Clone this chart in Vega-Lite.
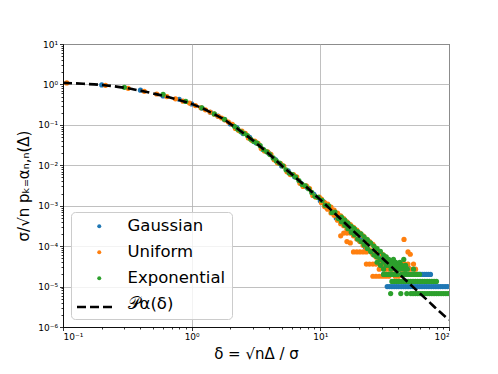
{
  "$schema": "https://vega.github.io/schema/vega-lite/v6.json",
  "width": 386,
  "height": 283,
  "autosize": {"type": "none"},
  "padding": {"left": 63, "top": 44, "right": 49, "bottom": 47},
  "background": "white",
  "config": {
    "view": {"stroke": "black", "strokeWidth": 1},
    "font": "DejaVu Sans",
    "axis": {
      "labelFont": "DejaVu Sans", "labelFontSize": 9, "labelColor": "black",
      "tickColor": "black", "tickWidth": 0.8, "domainColor": "black", "domainWidth": 0.9,
      "gridColor": "#b0b0b0", "gridWidth": 0.8,
      "titleFont": "DejaVu Sans", "titleFontWeight": "normal", "titleColor": "black", "titleFontSize": 15
    }
  },
  "datasets": {
    "pts": [
      {"s":"Gaussian","d":0.2,"p":0.97},{"s":"Gaussian","d":0.4,"p":0.72},{"s":"Gaussian","d":0.6,"p":0.52},{"s":"Gaussian","d":0.8,"p":0.43},{"s":"Gaussian","d":1.0,"p":0.33},{"s":"Gaussian","d":1.2,"p":0.26},{"s":"Gaussian","d":1.4,"p":0.205},{"s":"Gaussian","d":1.6,"p":0.165},{"s":"Gaussian","d":1.8,"p":0.135},
      {"s":"Gaussian","d":2.0,"p":0.105},{"s":"Gaussian","d":2.24,"p":0.085},{"s":"Gaussian","d":2.51,"p":0.061},{"s":"Gaussian","d":2.82,"p":0.049},{"s":"Gaussian","d":3.16,"p":0.036},{"s":"Gaussian","d":3.55,"p":0.025},{"s":"Gaussian","d":3.98,"p":0.0198},{"s":"Gaussian","d":4.47,"p":0.0138},{"s":"Gaussian","d":5.01,"p":0.0096},{"s":"Gaussian","d":5.62,"p":0.0073},{"s":"Gaussian","d":6.31,"p":0.0052},{"s":"Gaussian","d":7.08,"p":0.0036},{"s":"Gaussian","d":7.94,"p":0.0028},{"s":"Gaussian","d":8.91,"p":0.0019},
      {"s":"Gaussian","d":10,"p":0.00133},{"s":"Gaussian","d":10.6,"p":0.00124},{"s":"Gaussian","d":11.2,"p":0.0009},{"s":"Gaussian","d":11.9,"p":0.00092},{"s":"Gaussian","d":12.6,"p":0.00067},{"s":"Gaussian","d":13.3,"p":0.0005},{"s":"Gaussian","d":14.1,"p":0.00055},{"s":"Gaussian","d":15.0,"p":0.00038},{"s":"Gaussian","d":15.8,"p":0.0004},{"s":"Gaussian","d":16.8,"p":0.000255},{"s":"Gaussian","d":17.8,"p":0.00024},{"s":"Gaussian","d":18.8,"p":0.00025},{"s":"Gaussian","d":20.0,"p":0.00014},{"s":"Gaussian","d":21.1,"p":0.00016},{"s":"Gaussian","d":22.4,"p":0.000094},{"s":"Gaussian","d":23.7,"p":0.00013},{"s":"Gaussian","d":25.1,"p":0.00007},{"s":"Gaussian","d":26.6,"p":0.00008},{"s":"Gaussian","d":28.2,"p":0.00004},{"s":"Gaussian","d":29.9,"p":0.00006},
      {"s":"Gaussian","d":31,"p":5e-5},{"s":"Gaussian","d":30.5,"p":4e-5},{"s":"Gaussian","d":33,"p":4e-5},
      {"s":"Gaussian","d":30,"p":3e-5},{"s":"Gaussian","d":32,"p":3e-5},{"s":"Gaussian","d":36,"p":3e-5},{"s":"Gaussian","d":40,"p":3e-5},{"s":"Gaussian","d":44,"p":3e-5},{"s":"Gaussian","d":48,"p":3e-5},
      {"s":"Gaussian","d":31,"p":2e-5},{"s":"Gaussian","d":34,"p":2e-5},{"s":"Gaussian","d":38,"p":2e-5},{"s":"Gaussian","d":43,"p":2e-5},{"s":"Gaussian","d":57.5,"p":2e-5},{"s":"Gaussian","d":59.7,"p":2e-5},{"s":"Gaussian","d":61.9,"p":2e-5},{"s":"Gaussian","d":64.3,"p":2e-5},{"s":"Gaussian","d":66.7,"p":2e-5},{"s":"Gaussian","d":69.2,"p":2e-5},{"s":"Gaussian","d":71.8,"p":2e-5},
      {"s":"Gaussian","d":33.1,"p":1e-5},{"s":"Gaussian","d":34.5,"p":1e-5},{"s":"Gaussian","d":36.0,"p":1e-5},{"s":"Gaussian","d":37.5,"p":1e-5},{"s":"Gaussian","d":39.1,"p":1e-5},{"s":"Gaussian","d":40.7,"p":1e-5},{"s":"Gaussian","d":42.5,"p":1e-5},{"s":"Gaussian","d":44.3,"p":1e-5},{"s":"Gaussian","d":46.1,"p":1e-5},{"s":"Gaussian","d":48.1,"p":1e-5},{"s":"Gaussian","d":50.1,"p":1e-5},{"s":"Gaussian","d":52.2,"p":1e-5},{"s":"Gaussian","d":54.5,"p":1e-5},{"s":"Gaussian","d":56.8,"p":1e-5},{"s":"Gaussian","d":59.2,"p":1e-5},{"s":"Gaussian","d":61.7,"p":1e-5},{"s":"Gaussian","d":64.3,"p":1e-5},{"s":"Gaussian","d":67.0,"p":1e-5},{"s":"Gaussian","d":69.8,"p":1e-5},{"s":"Gaussian","d":72.8,"p":1e-5},{"s":"Gaussian","d":75.9,"p":1e-5},{"s":"Gaussian","d":79.1,"p":1e-5},{"s":"Gaussian","d":82.4,"p":1e-5},{"s":"Gaussian","d":85.9,"p":1e-5},{"s":"Gaussian","d":89.5,"p":1e-5},{"s":"Gaussian","d":93.3,"p":1e-5},{"s":"Gaussian","d":97.2,"p":1e-5},

      {"s":"Uniform","d":0.107,"p":1.09},{"s":"Uniform","d":0.214,"p":0.95},{"s":"Uniform","d":0.321,"p":0.80},{"s":"Uniform","d":0.428,"p":0.675},{"s":"Uniform","d":0.535,"p":0.58},{"s":"Uniform","d":0.642,"p":0.50},{"s":"Uniform","d":0.749,"p":0.44},{"s":"Uniform","d":0.856,"p":0.385},{"s":"Uniform","d":0.963,"p":0.345},{"s":"Uniform","d":1.07,"p":0.30},{"s":"Uniform","d":1.18,"p":0.265},{"s":"Uniform","d":1.28,"p":0.235},{"s":"Uniform","d":1.39,"p":0.207},{"s":"Uniform","d":1.50,"p":0.184},{"s":"Uniform","d":1.61,"p":0.163},{"s":"Uniform","d":1.71,"p":0.148},{"s":"Uniform","d":1.82,"p":0.132},{"s":"Uniform","d":1.93,"p":0.117},
      {"s":"Uniform","d":2.07,"p":0.103},{"s":"Uniform","d":2.32,"p":0.0722},{"s":"Uniform","d":2.61,"p":0.0615},{"s":"Uniform","d":2.93,"p":0.0414},{"s":"Uniform","d":3.28,"p":0.0347},{"s":"Uniform","d":3.68,"p":0.0226},{"s":"Uniform","d":4.13,"p":0.0187},{"s":"Uniform","d":4.64,"p":0.0115},{"s":"Uniform","d":5.20,"p":0.0096},{"s":"Uniform","d":5.84,"p":0.0059},{"s":"Uniform","d":6.55,"p":0.0052},{"s":"Uniform","d":7.35,"p":0.0030},{"s":"Uniform","d":8.25,"p":0.00264},{"s":"Uniform","d":9.25,"p":0.00162},
      {"s":"Uniform","d":2.19,"p":0.0818},{"s":"Uniform","d":2.46,"p":0.070},{"s":"Uniform","d":2.76,"p":0.0475},{"s":"Uniform","d":3.10,"p":0.0399},{"s":"Uniform","d":3.47,"p":0.026},{"s":"Uniform","d":3.90,"p":0.0214},{"s":"Uniform","d":4.38,"p":0.0137},{"s":"Uniform","d":4.91,"p":0.0110},{"s":"Uniform","d":5.51,"p":0.0069},{"s":"Uniform","d":6.19,"p":0.0059},{"s":"Uniform","d":6.94,"p":0.0036},{"s":"Uniform","d":7.79,"p":0.0031},{"s":"Uniform","d":8.74,"p":0.0018},{"s":"Uniform","d":9.81,"p":0.00163},
      {"s":"Uniform","d":10.2,"p":0.00145},{"s":"Uniform","d":10.2,"p":0.00119},{"s":"Uniform","d":10.8,"p":0.0012},{"s":"Uniform","d":10.8,"p":0.00095},{"s":"Uniform","d":11.4,"p":0.0011},{"s":"Uniform","d":11.4,"p":0.00082},{"s":"Uniform","d":12.1,"p":0.00092},{"s":"Uniform","d":12.1,"p":0.00066},{"s":"Uniform","d":12.8,"p":0.00078},{"s":"Uniform","d":12.8,"p":0.00058},{"s":"Uniform","d":13.6,"p":0.00066},{"s":"Uniform","d":13.6,"p":0.00044},
      {"s":"Uniform","d":14.4,"p":0.00056},{"s":"Uniform","d":14.4,"p":0.00036},{"s":"Uniform","d":14.4,"p":0.00018},{"s":"Uniform","d":15.2,"p":0.00048},{"s":"Uniform","d":15.2,"p":0.00032},{"s":"Uniform","d":15.2,"p":0.00021},
      {"s":"Uniform","d":16.1,"p":0.0004},{"s":"Uniform","d":16.1,"p":0.00026},{"s":"Uniform","d":16.1,"p":0.00021},{"s":"Uniform","d":16.1,"p":0.00013},{"s":"Uniform","d":17.1,"p":0.00034},{"s":"Uniform","d":17.1,"p":0.00022},{"s":"Uniform","d":17.1,"p":0.00021},{"s":"Uniform","d":17.1,"p":0.00012},
      {"s":"Uniform","d":18.1,"p":0.00029},{"s":"Uniform","d":18.1,"p":0.00018},{"s":"Uniform","d":18.1,"p":7.2e-5},{"s":"Uniform","d":19.2,"p":0.00025},{"s":"Uniform","d":19.2,"p":0.00015},{"s":"Uniform","d":19.2,"p":7.2e-5},{"s":"Uniform","d":20.3,"p":0.00021},{"s":"Uniform","d":20.3,"p":0.00013},{"s":"Uniform","d":20.3,"p":7.2e-5},{"s":"Uniform","d":21.5,"p":0.00018},{"s":"Uniform","d":21.5,"p":0.000105},{"s":"Uniform","d":21.5,"p":7.2e-5},
      {"s":"Uniform","d":22.8,"p":0.00015},{"s":"Uniform","d":22.8,"p":9e-5},{"s":"Uniform","d":22.8,"p":7.2e-5},{"s":"Uniform","d":22.8,"p":3.6e-5},{"s":"Uniform","d":24.1,"p":0.00013},{"s":"Uniform","d":24.1,"p":8.1e-5},{"s":"Uniform","d":24.1,"p":3.6e-5},
      {"s":"Uniform","d":25.6,"p":0.00011},{"s":"Uniform","d":25.6,"p":6.3e-5},{"s":"Uniform","d":25.6,"p":3.6e-5},{"s":"Uniform","d":25.6,"p":1.8e-5},{"s":"Uniform","d":27.1,"p":9e-5},{"s":"Uniform","d":27.1,"p":5.4e-5},{"s":"Uniform","d":27.1,"p":3.6e-5},{"s":"Uniform","d":27.1,"p":1.8e-5},{"s":"Uniform","d":28.7,"p":7.2e-5},{"s":"Uniform","d":28.7,"p":4.5e-5},{"s":"Uniform","d":28.7,"p":2.7e-5},{"s":"Uniform","d":28.7,"p":1.8e-5},
      {"s":"Uniform","d":30.4,"p":6.3e-5},{"s":"Uniform","d":30.4,"p":3.6e-5},{"s":"Uniform","d":30.4,"p":1.8e-5},{"s":"Uniform","d":32.2,"p":5.4e-5},{"s":"Uniform","d":32.2,"p":2.7e-5},{"s":"Uniform","d":32.2,"p":1.8e-5},{"s":"Uniform","d":34.1,"p":4.5e-5},{"s":"Uniform","d":34.1,"p":2.7e-5},{"s":"Uniform","d":34.1,"p":1.8e-5},
      {"s":"Uniform","d":36.1,"p":3.6e-5},{"s":"Uniform","d":36.1,"p":2.7e-5},{"s":"Uniform","d":38.2,"p":3.6e-5},{"s":"Uniform","d":38.2,"p":1.8e-5},{"s":"Uniform","d":40.5,"p":2.7e-5},{"s":"Uniform","d":40.5,"p":1.8e-5},{"s":"Uniform","d":42.9,"p":3.6e-5},{"s":"Uniform","d":42.9,"p":2.7e-5},{"s":"Uniform","d":44.7,"p":1.47e-4},{"s":"Uniform","d":45.4,"p":3.6e-5},{"s":"Uniform","d":45.4,"p":2.7e-5},
      {"s":"Uniform","d":48,"p":7.2e-5},{"s":"Uniform","d":48,"p":3.6e-5},{"s":"Uniform","d":50,"p":6.3e-5},{"s":"Uniform","d":50,"p":2.7e-5},{"s":"Uniform","d":53,"p":3.6e-5},{"s":"Uniform","d":55,"p":2.7e-5},

      {"s":"Exponential","d":0.3,"p":0.85},{"s":"Exponential","d":0.6,"p":0.57},{"s":"Exponential","d":0.9,"p":0.38},{"s":"Exponential","d":1.2,"p":0.265},{"s":"Exponential","d":1.5,"p":0.186},{"s":"Exponential","d":1.8,"p":0.137},
      {"s":"Exponential","d":2.15,"p":0.0918},{"s":"Exponential","d":2.42,"p":0.0676},{"s":"Exponential","d":2.71,"p":0.0546},{"s":"Exponential","d":3.04,"p":0.0388},{"s":"Exponential","d":3.41,"p":0.0306},{"s":"Exponential","d":3.83,"p":0.0215},{"s":"Exponential","d":4.30,"p":0.0152},{"s":"Exponential","d":4.82,"p":0.0113},{"s":"Exponential","d":5.41,"p":0.0077},{"s":"Exponential","d":6.07,"p":0.0059},{"s":"Exponential","d":6.81,"p":0.0042},{"s":"Exponential","d":7.64,"p":0.00312},{"s":"Exponential","d":8.57,"p":0.00213},{"s":"Exponential","d":9.62,"p":0.0016},
      {"s":"Exponential","d":2.28,"p":0.0784},{"s":"Exponential","d":2.56,"p":0.0612},{"s":"Exponential","d":2.87,"p":0.0446},{"s":"Exponential","d":3.22,"p":0.0355},{"s":"Exponential","d":3.62,"p":0.0245},{"s":"Exponential","d":4.06,"p":0.0184},{"s":"Exponential","d":4.55,"p":0.0128},{"s":"Exponential","d":5.11,"p":0.0097},{"s":"Exponential","d":5.73,"p":0.0064},{"s":"Exponential","d":6.43,"p":0.0051},{"s":"Exponential","d":7.22,"p":0.00336},{"s":"Exponential","d":8.10,"p":0.00263},{"s":"Exponential","d":9.08,"p":0.00171},
      {"s":"Exponential","d":10.3,"p":0.00135},{"s":"Exponential","d":10.9,"p":0.00103},{"s":"Exponential","d":11.6,"p":0.00099},{"s":"Exponential","d":12.3,"p":0.00068},{"s":"Exponential","d":13.0,"p":0.0007},{"s":"Exponential","d":13.8,"p":0.00048},
      {"s":"Exponential","d":14.6,"p":0.00052},{"s":"Exponential","d":14.6,"p":0.0004},{"s":"Exponential","d":15.5,"p":0.00044},{"s":"Exponential","d":15.5,"p":0.00033},{"s":"Exponential","d":16.4,"p":0.00037},{"s":"Exponential","d":16.4,"p":0.00027},{"s":"Exponential","d":17.4,"p":0.00031},{"s":"Exponential","d":17.4,"p":0.00022},{"s":"Exponential","d":18.4,"p":0.00027},{"s":"Exponential","d":18.4,"p":0.00019},
      {"s":"Exponential","d":19.5,"p":0.00023},{"s":"Exponential","d":19.5,"p":0.00015},{"s":"Exponential","d":20.7,"p":0.0002},{"s":"Exponential","d":20.7,"p":0.00013},{"s":"Exponential","d":21.9,"p":0.00017},{"s":"Exponential","d":21.9,"p":0.000107},{"s":"Exponential","d":23.2,"p":0.000145},{"s":"Exponential","d":23.2,"p":8.7e-5},{"s":"Exponential","d":24.6,"p":0.00012},{"s":"Exponential","d":24.6,"p":7.4e-5},
      {"s":"Exponential","d":26.1,"p":0.0001},{"s":"Exponential","d":26.1,"p":6e-5},{"s":"Exponential","d":27.6,"p":8.7e-5},{"s":"Exponential","d":27.6,"p":5.4e-5},{"s":"Exponential","d":27.6,"p":4e-5},{"s":"Exponential","d":29.3,"p":7.4e-5},{"s":"Exponential","d":29.3,"p":4.7e-5},{"s":"Exponential","d":29.3,"p":3.35e-5},
      {"s":"Exponential","d":31,"p":6e-5},{"s":"Exponential","d":31,"p":4e-5},{"s":"Exponential","d":31,"p":2.7e-5},{"s":"Exponential","d":31,"p":2e-5},{"s":"Exponential","d":32.5,"p":5.4e-5},{"s":"Exponential","d":32.5,"p":3.35e-5},{"s":"Exponential","d":32.5,"p":2e-5},
      {"s":"Exponential","d":34,"p":4.7e-5},{"s":"Exponential","d":34,"p":3.35e-5},{"s":"Exponential","d":34,"p":2e-5},{"s":"Exponential","d":35.2,"p":6.7e-6},{"s":"Exponential","d":35.5,"p":4e-5},{"s":"Exponential","d":35.5,"p":2.7e-5},{"s":"Exponential","d":35.5,"p":2e-5},
      {"s":"Exponential","d":37,"p":4.7e-5},{"s":"Exponential","d":37,"p":3.35e-5},{"s":"Exponential","d":37,"p":2e-5},{"s":"Exponential","d":38.5,"p":4e-5},{"s":"Exponential","d":38.5,"p":2.7e-5},{"s":"Exponential","d":38.5,"p":2e-5},{"s":"Exponential","d":40,"p":3.35e-5},{"s":"Exponential","d":40,"p":2.7e-5},{"s":"Exponential","d":40,"p":2e-5},
      {"s":"Exponential","d":41.5,"p":4e-5},{"s":"Exponential","d":41.5,"p":2.7e-5},{"s":"Exponential","d":42.2,"p":6.7e-6},{"s":"Exponential","d":43,"p":3.35e-5},{"s":"Exponential","d":43,"p":2e-5},{"s":"Exponential","d":44.5,"p":4.7e-5},{"s":"Exponential","d":44.5,"p":2.7e-5},{"s":"Exponential","d":44.5,"p":2e-5},{"s":"Exponential","d":46,"p":3.35e-5},{"s":"Exponential","d":46,"p":2.7e-5},{"s":"Exponential","d":46,"p":2e-5},{"s":"Exponential","d":47,"p":6.7e-6},
      {"s":"Exponential","d":47.5,"p":2.7e-5},{"s":"Exponential","d":47.5,"p":2e-5},{"s":"Exponential","d":49,"p":2e-5},{"s":"Exponential","d":51,"p":2e-5},{"s":"Exponential","d":53,"p":2.7e-5},{"s":"Exponential","d":53,"p":2e-5},{"s":"Exponential","d":55,"p":2e-5},{"s":"Exponential","d":57,"p":2e-5},{"s":"Exponential","d":59,"p":2e-5},
      {"s":"Exponential","d":36.0,"p":1.34e-5},{"s":"Exponential","d":37.5,"p":1.34e-5},{"s":"Exponential","d":39.1,"p":1.34e-5},{"s":"Exponential","d":40.8,"p":1.34e-5},{"s":"Exponential","d":42.6,"p":1.34e-5},{"s":"Exponential","d":44.4,"p":1.34e-5},{"s":"Exponential","d":46.3,"p":1.34e-5},{"s":"Exponential","d":48.3,"p":1.34e-5},{"s":"Exponential","d":50.4,"p":1.34e-5},{"s":"Exponential","d":52.5,"p":1.34e-5},{"s":"Exponential","d":54.8,"p":1.34e-5},{"s":"Exponential","d":57.1,"p":1.34e-5},{"s":"Exponential","d":59.6,"p":1.34e-5},{"s":"Exponential","d":62.1,"p":1.34e-5},{"s":"Exponential","d":64.8,"p":1.34e-5},{"s":"Exponential","d":67.6,"p":1.34e-5},{"s":"Exponential","d":70.5,"p":1.34e-5},{"s":"Exponential","d":73.5,"p":1.34e-5},{"s":"Exponential","d":76.6,"p":1.34e-5},{"s":"Exponential","d":79.9,"p":1.34e-5},
      {"s":"Exponential","d":50.5,"p":6.7e-6},{"s":"Exponential","d":52.6,"p":6.7e-6},{"s":"Exponential","d":54.8,"p":6.7e-6},{"s":"Exponential","d":57.1,"p":6.7e-6},{"s":"Exponential","d":59.6,"p":6.7e-6},{"s":"Exponential","d":62.1,"p":6.7e-6},{"s":"Exponential","d":64.8,"p":6.7e-6},{"s":"Exponential","d":67.6,"p":6.7e-6},{"s":"Exponential","d":70.5,"p":6.7e-6},{"s":"Exponential","d":73.5,"p":6.7e-6},{"s":"Exponential","d":76.6,"p":6.7e-6},{"s":"Exponential","d":79.9,"p":6.7e-6},{"s":"Exponential","d":83.3,"p":6.7e-6},{"s":"Exponential","d":86.9,"p":6.7e-6},{"s":"Exponential","d":90.6,"p":6.7e-6},{"s":"Exponential","d":94.5,"p":6.7e-6},{"s":"Exponential","d":98.5,"p":6.7e-6}
    ],
    "curve": [
      {"d":0.1,"p":1.09},{"d":0.12,"p":1.07},{"d":0.15,"p":1.03},{"d":0.2,"p":0.97},{"d":0.25,"p":0.9},{"d":0.3,"p":0.83},{"d":0.35,"p":0.76},{"d":0.4,"p":0.7},{"d":0.5,"p":0.6},{"d":0.6,"p":0.525},{"d":0.7,"p":0.46},{"d":0.8,"p":0.41},{"d":0.9,"p":0.37},{"d":1.0,"p":0.33},{"d":1.2,"p":0.26},{"d":1.4,"p":0.205},{"d":1.6,"p":0.165},{"d":1.8,"p":0.135},{"d":2.0,"p":0.105},{"d":2.3,"p":0.078},{"d":2.6,"p":0.058},{"d":3.0,"p":0.041},{"d":3.5,"p":0.027},{"d":4.0,"p":0.019},{"d":4.5,"p":0.0135},{"d":5.0,"p":0.0098},{"d":6.0,"p":0.006},{"d":7.0,"p":0.0039},{"d":8.0,"p":0.0027},{"d":9.0,"p":0.0019},{"d":10,"p":0.0014},{"d":12,"p":0.00081},{"d":14,"p":0.00051},{"d":17,"p":0.000285},{"d":20,"p":0.000175},{"d":25,"p":9.0e-5},{"d":30,"p":5.2e-5},{"d":35,"p":3.3e-5},{"d":40,"p":2.2e-5},{"d":50,"p":1.13e-5},{"d":60,"p":6.6e-6},{"d":70,"p":4.2e-6},{"d":80,"p":2.8e-6},{"d":90,"p":2.0e-6},{"d":100,"p":1.5e-6}
    ]
  },
  "layer": [
    {
      "data": {"name": "pts"},
      "mark": {"type": "point", "filled": true, "size": 27, "opacity": 1, "clip": true, "strokeWidth": 0},
      "encoding": {
        "x": {"field": "d", "type": "quantitative",
          "scale": {"type": "log", "domain": [0.1, 100], "nice": false},
          "axis": {"orient": "bottom", "values": [0.1, 1, 10, 100], "grid": true, "tickSize": 3.5, "labelPadding": 2,
            "labelExpr": "['10⁻⁶','10⁻⁵','10⁻⁴','10⁻³','10⁻²','10⁻¹','10⁰','10¹','10²'][round(log(datum.value)/LN10)+6]",
            "title": "δ = √nΔ / σ", "titlePadding": 5}},
        "y": {"field": "p", "type": "quantitative",
          "scale": {"type": "log", "domain": [1e-6, 10], "nice": false},
          "axis": {"orient": "left", "values": [1e-6, 1e-5, 1e-4, 1e-3, 0.01, 0.1, 1, 10], "grid": true, "tickSize": 3.5, "labelPadding": 2,
            "labelExpr": "['10⁻⁶','10⁻⁵','10⁻⁴','10⁻³','10⁻²','10⁻¹','10⁰','10¹','10²'][round(log(datum.value)/LN10)+6]",
            "title": "σ/√n pₖ₌αₙ,ₙ(Δ)", "titlePadding": 6}},
        "color": {"field": "s", "type": "nominal",
          "scale": {"domain": ["Gaussian", "Uniform", "Exponential", "𝒫α(δ)"], "range": ["#1f77b4", "#ff7f0e", "#2ca02c", "transparent"]},
          "legend": {
            "title": null, "orient": "none", "legendX": 8, "legendY": 168,
            "labelFontSize": 16.5, "labelFont": "DejaVu Sans", "labelColor": "black",
            "padding": 6, "rowPadding": 9, "symbolSize": 16, "symbolStrokeWidth": 0, "symbolOffset": 14, "labelOffset": 20,
            "strokeColor": "#cccccc", "fillColor": "rgba(255,255,255,0.8)", "cornerRadius": 4,
            "symbolType": "circle"
          }}
      }
    },
    {
      "data": {"name": "curve"},
      "mark": {"type": "line", "color": "black", "strokeWidth": 2.6, "clip": true, "interpolate": "monotone"},
      "encoding": {
        "x": {"field": "d", "type": "quantitative",
          "axis": {"orient": "bottom", "values": [0.2,0.3,0.4,0.5,0.6,0.7,0.8,0.9,2,3,4,5,6,7,8,9,20,30,40,50,60,70,80,90], "grid": false, "labels": false, "domain": false, "tickSize": 2, "title": null}},
        "y": {"field": "p", "type": "quantitative",
          "axis": {"orient": "left", "values": [2e-6,3e-6,4e-6,5e-6,6e-6,7e-6,8e-6,9e-6,2e-5,3e-5,4e-5,5e-5,6e-5,7e-5,8e-5,9e-5,2e-4,3e-4,4e-4,5e-4,6e-4,7e-4,8e-4,9e-4,0.002,0.003,0.004,0.005,0.006,0.007,0.008,0.009,0.02,0.03,0.04,0.05,0.06,0.07,0.08,0.09,0.2,0.3,0.4,0.5,0.6,0.7,0.8,0.9,2,3,4,5,6,7,8,9], "grid": false, "labels": false, "domain": false, "tickSize": 2, "title": null}},
        "strokeDash": {"datum": "curve",
          "scale": {"domain": ["curve"], "range": [[9, 4]]},
          "legend": {"title": null, "orient": "none", "legendX": 12.5, "legendY": 244, "labelExpr": "''", "labelOffset": 0,
            "padding": 0, "symbolType": "stroke", "symbolSize": 1225, "symbolStrokeWidth": 2.6, "symbolStrokeColor": "black", "symbolOffset": 0}}
      }
    }
  ],
  "resolve": {"axis": {"x": "independent", "y": "independent"}}
}
